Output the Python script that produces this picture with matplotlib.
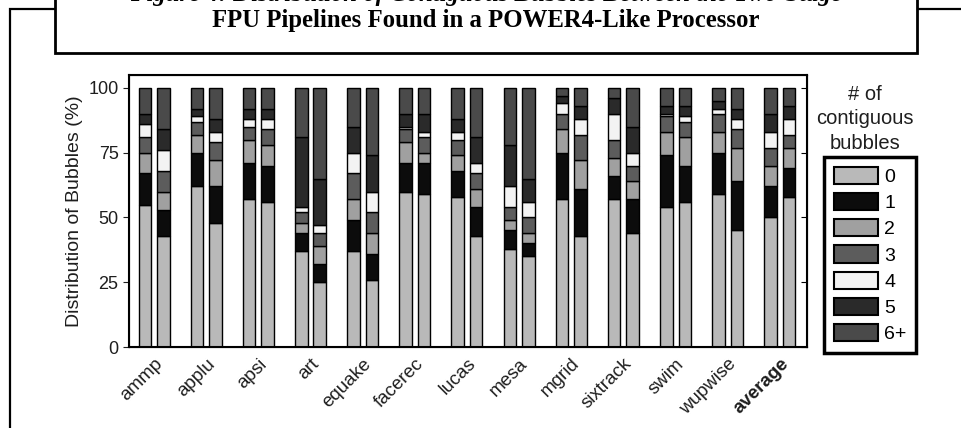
import matplotlib
matplotlib.use("Agg")
import matplotlib.pyplot as plt
from matplotlib.patches import Rectangle, Patch
import numpy as np

plt.rcParams['font.family'] = ['Liberation Sans', 'DejaVu Sans']

benchmarks = ["ammp", "applu", "apsi", "art", "equake", "facerec", "lucas",
              "mesa", "mgrid", "sixtrack", "swim", "wupwise", "average"]
categories = ["0", "1", "2", "3", "4", "5", "6+"]

# Share (%) of each contiguous-bubble count; two bars per benchmark
# (first pipeline configuration, second pipeline configuration).
bub0 = [[55, 43], [62, 48], [57, 56], [37, 25], [37, 26], [60, 59], [58, 43],
        [38, 35], [57, 43], [57, 44], [54, 56], [59, 45], [50, 58]]
bub1 = [[12, 10], [13, 14], [14, 14], [7, 7], [12, 10], [11, 12], [10, 11],
        [7, 5], [18, 18], [9, 13], [20, 14], [16, 19], [12, 11]]
bub2 = [[8, 7], [7, 10], [9, 8], [4, 7], [8, 8], [8, 4], [6, 7],
        [4, 4], [9, 11], [7, 7], [9, 11], [8, 13], [8, 8]]
bub3 = [[6, 8], [5, 7], [5, 6], [4, 5], [10, 8], [5, 6], [6, 6],
        [5, 6], [6, 10], [7, 6], [6, 6], [7, 7], [7, 5]]
bub4 = [[5, 8], [2, 4], [3, 4], [2, 3], [8, 8], [1, 2], [3, 4],
        [8, 6], [4, 6], [10, 5], [1, 2], [2, 4], [6, 6]]
bub5 = [[4, 8], [3, 5], [4, 4], [27, 18], [10, 14], [5, 7], [5, 10],
        [16, 9], [3, 5], [6, 10], [3, 4], [3, 4], [7, 5]]
bub6 = [[10, 16], [8, 12], [8, 8], [19, 35], [15, 26], [10, 10], [12, 19],
        [22, 35], [3, 7], [4, 15], [7, 7], [5, 8], [10, 7]]

series = [bub0, bub1, bub2, bub3, bub4, bub5, bub6]
colors = ['#b9b9b9', '#0c0c0c', '#a0a0a0', '#5c5c5c', '#f3f3f3', '#2a2a2a', '#4a4a4a']
text_col = '#1e1e1e'

fig = plt.figure(figsize=(9.62, 4.28), dpi=100)
W, H = 962, 428

# outer page frame and caption box
fig.patches.append(Rectangle((10 / W, -0.2), 1.2, 1.2 - 9 / H,
                             transform=fig.transFigure, fill=False,
                             edgecolor='black', linewidth=1.6, zorder=0))
fig.patches.append(Rectangle((55 / W, 1 - 53 / H), (917 - 55) / W, 0.3,
                             transform=fig.transFigure, facecolor='white',
                             edgecolor='black', linewidth=2.0, zorder=1))
fig.text(486 / W, 1 + 5 / H,
         "Figure 4: Distribution of Contiguous Bubbles Between the Two-Stage",
         ha='center', va='center', fontsize=17.8, fontweight='bold', style='italic',
         family='Liberation Serif', zorder=2)
fig.text(486 / W, 1 - 20 / H, "FPU Pipelines Found in a POWER4-Like Processor",
         ha='center', va='center', fontsize=17.8, fontweight='bold',
         family='Liberation Serif', zorder=2)

ax = fig.add_axes([129 / W, 1 - 347 / H, (807 - 129) / W, (347 - 75) / H])

x = np.arange(len(benchmarks))
offsets = [-0.177, 0.177]
width = 0.24
for b, off in enumerate(offsets):
    bottom = np.zeros(len(benchmarks))
    for s, col in zip(series, colors):
        vals = np.array([pair[b] for pair in s], dtype=float)
        ax.bar(x + off, vals, width, bottom=bottom, color=col,
               edgecolor='black', linewidth=1.0)
        bottom += vals

ax.set_xlim(-0.48, 12.52)
ax.set_ylim(0, 105)
ax.set_yticks([0, 25, 50, 75, 100])
ax.tick_params(axis='y', direction='out', length=4, labelsize=13, colors=text_col)
ax.set_xticks(x)
ax.set_xticklabels(benchmarks, rotation=45, ha='right', va='top',
                   rotation_mode='anchor', fontsize=13.5, color=text_col)
ax.get_xticklabels()[-1].set_fontweight('bold')
ax.tick_params(axis='x', length=0, pad=6)
ax.set_ylabel("Distribution of Bubbles (%)", fontsize=14, color=text_col, labelpad=4)
for sp in ax.spines.values():
    sp.set_linewidth(1.5)

axr = ax.twinx()
axr.set_ylim(0, 105)
axr.set_yticks([0, 25, 50, 75, 100])
axr.set_yticklabels([])
axr.tick_params(axis='y', direction='in', length=4)

handles = [Patch(facecolor=c, edgecolor='black', linewidth=1.5) for c in colors]
leg = fig.legend(handles, categories, loc='upper left',
                 bbox_to_anchor=(824 / W, 1 - 157 / H), fontsize=14,
                 handlelength=2.3, handleheight=0.98, labelspacing=0.36,
                 handletextpad=0.3, borderpad=0.5, borderaxespad=0,
                 fancybox=False, framealpha=1, edgecolor='black')
leg.get_frame().set_linewidth(2.5)

fig.text(865 / W, 1 - 119 / H, "# of\ncontiguous\nbubbles", ha='center',
         va='center', fontsize=14.5, linespacing=1.35, color=text_col)

fig.savefig("out.png", dpi=100)
